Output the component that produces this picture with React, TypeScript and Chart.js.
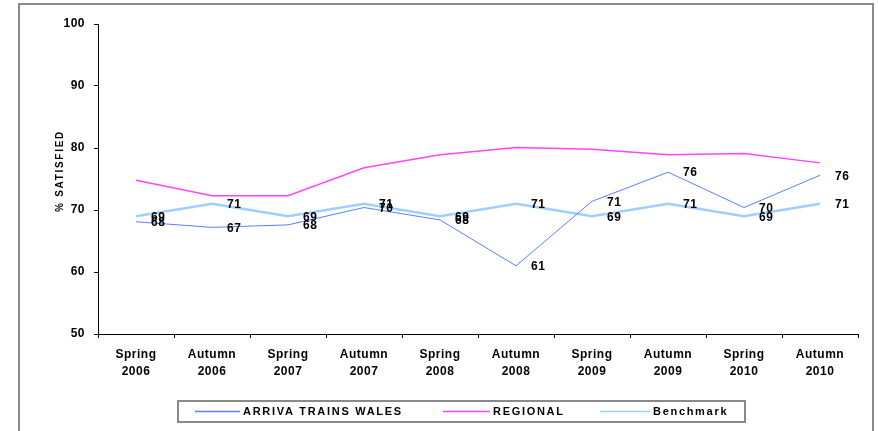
import React, { useEffect, useRef } from "react";
import { Chart, registerables } from "chart.js";

Chart.register(...registerables);

const seasons = ["Spring", "Autumn", "Spring", "Autumn", "Spring", "Autumn", "Spring", "Autumn", "Spring", "Autumn"];
const years = ["2006", "2006", "2007", "2007", "2008", "2008", "2009", "2009", "2010", "2010"];
const seriesNames = ["ARRIVA TRAINS WALES", "REGIONAL", "Benchmark"];
const arrivaTrainsWales = [68.1, 67.2, 67.6, 70.4, 68.4, 61.0, 71.4, 76.1, 70.4, 75.6];
const regional = [74.8, 72.3, 72.3, 76.8, 78.9, 80.1, 79.8, 78.9, 79.1, 77.6];
const benchmark = [69, 71, 69, 71, 69, 71, 69, 71, 69, 71];
const yMin = 50;
const yMax = 100;
const yStep = 10;
const yTitle = "% SATISFIED";

const colors = ["#5a7fff", "#ff44ff", "#9fcfff"];
const widths = [1, 1.5, 2.5];

const FONT = "'Liberation Sans', Arial, sans-serif";

const setSpacing = (chart: any) => {
  try {
    (chart.ctx as any).letterSpacing = "0.5px";
  } catch (e) {}
};

const framePlugin = {
  id: "frame",
  beforeLayout(chart: any) {
    setSpacing(chart);
  },
  beforeDraw(chart: any) {
    const ctx = chart.ctx;
    ctx.save();
    ctx.fillStyle = "#ffffff";
    ctx.fillRect(0, 0, chart.width, chart.height);
    ctx.strokeStyle = "#8a8a8a";
    ctx.lineWidth = 2;
    ctx.strokeRect(19, 4, 854, 500);
    ctx.restore();
    setSpacing(chart);
  },
  afterDraw(chart: any) {
    const ctx = chart.ctx;
    // y axis title
    ctx.save();
    ctx.translate(60, 171);
    ctx.rotate(-Math.PI / 2);
    ctx.font = `bold 10px ${FONT}`;
    (ctx as any).letterSpacing = "1.7px";
    ctx.fillStyle = "#000";
    ctx.textAlign = "center";
    ctx.textBaseline = "middle";
    ctx.fillText(yTitle, 0, 0);
    ctx.restore();

    // legend
    ctx.save();
    ctx.strokeStyle = "#8a8a8a";
    ctx.lineWidth = 2;
    ctx.strokeRect(178, 401, 567, 21);
    const starts = [195, 443, 600];
    const lens = [45, 47, 50];
    ctx.font = `bold 11px ${FONT}`;
    (ctx as any).letterSpacing = "1.7px";
    ctx.textBaseline = "middle";
    ctx.textAlign = "left";
    seriesNames.forEach((name, i) => {
      ctx.strokeStyle = colors[i];
      ctx.lineWidth = 1.5;
      ctx.beginPath();
      ctx.moveTo(starts[i], 411.5);
      ctx.lineTo(starts[i] + lens[i], 411.5);
      ctx.stroke();
      ctx.fillStyle = "#000";
      ctx.fillText(name, starts[i] + lens[i] + 3, 412);
    });
    ctx.restore();
  },
  afterDatasetsDraw(chart: any) {
    const ctx = chart.ctx;
    ctx.save();
    ctx.font = `bold 12px ${FONT}`;
    (ctx as any).letterSpacing = "0.5px";
    ctx.fillStyle = "#000";
    ctx.textAlign = "left";
    ctx.textBaseline = "middle";
    chart.data.datasets.forEach((ds: any, di: number) => {
      if (!ds.showValues) return;
      const meta = chart.getDatasetMeta(di);
      meta.data.forEach((pt: any, i: number) => {
        ctx.fillText(String(Math.round(ds.data[i])), pt.x + 15, pt.y + 1);
      });
    });
    ctx.restore();
  },
};

export default function App() {
  const ref = useRef<HTMLCanvasElement>(null);
  useEffect(() => {
    if (!ref.current) return;
    const labels = seasons.map((s, i) => [s, years[i]]);
    const series = [arrivaTrainsWales, regional, benchmark];
    const chart = new Chart(ref.current, {
      type: "line",
      data: {
        labels,
        datasets: series.map((d, i) => ({
          label: seriesNames[i],
          data: d,
          borderColor: colors[i],
          backgroundColor: colors[i],
          borderWidth: widths[i],
          pointRadius: 0,
          tension: 0,
          fill: false,
          showValues: i !== 1,
        })) as any,
      },
      options: {
        animation: false,
        responsive: false,
        devicePixelRatio: 1,
        layout: { padding: { left: 20, right: 20, top: 24, bottom: 0 } },
        plugins: { legend: { display: false }, tooltip: { enabled: false } },
        scales: {
          x: {
            offset: true,
            grid: { offset: true, drawOnChartArea: false, drawTicks: true, tickLength: 4, color: "#000" },
            border: { display: true, color: "#000", width: 1 },
            ticks: {
              color: "#000",
              font: { family: FONT, size: 12, weight: "bold", lineHeight: 1.45 },
              padding: 8,
              maxRotation: 0,
              autoSkip: false,
            },
            afterFit(scale: any) {
              scale.height = 97;
            },
          },
          y: {
            min: yMin,
            max: yMax,
            grid: { drawOnChartArea: false, drawTicks: true, tickLength: 4, color: "#000" },
            border: { display: true, color: "#000", width: 1 },
            ticks: {
              stepSize: yStep,
              color: "#000",
              font: { family: FONT, size: 12, weight: "bold" },
              padding: 9,
            },
            afterFit(scale: any) {
              scale.width = 78;
            },
          },
        },
      },
      plugins: [framePlugin],
    });
    return () => chart.destroy();
  }, []);
  return (
    <div style={{ position: "fixed", left: 0, top: 0, width: 878, height: 431, background: "#fff" }}>
      <canvas ref={ref} width={878} height={431} style={{ display: "block", width: 878, height: 431 }} />
    </div>
  );
}
